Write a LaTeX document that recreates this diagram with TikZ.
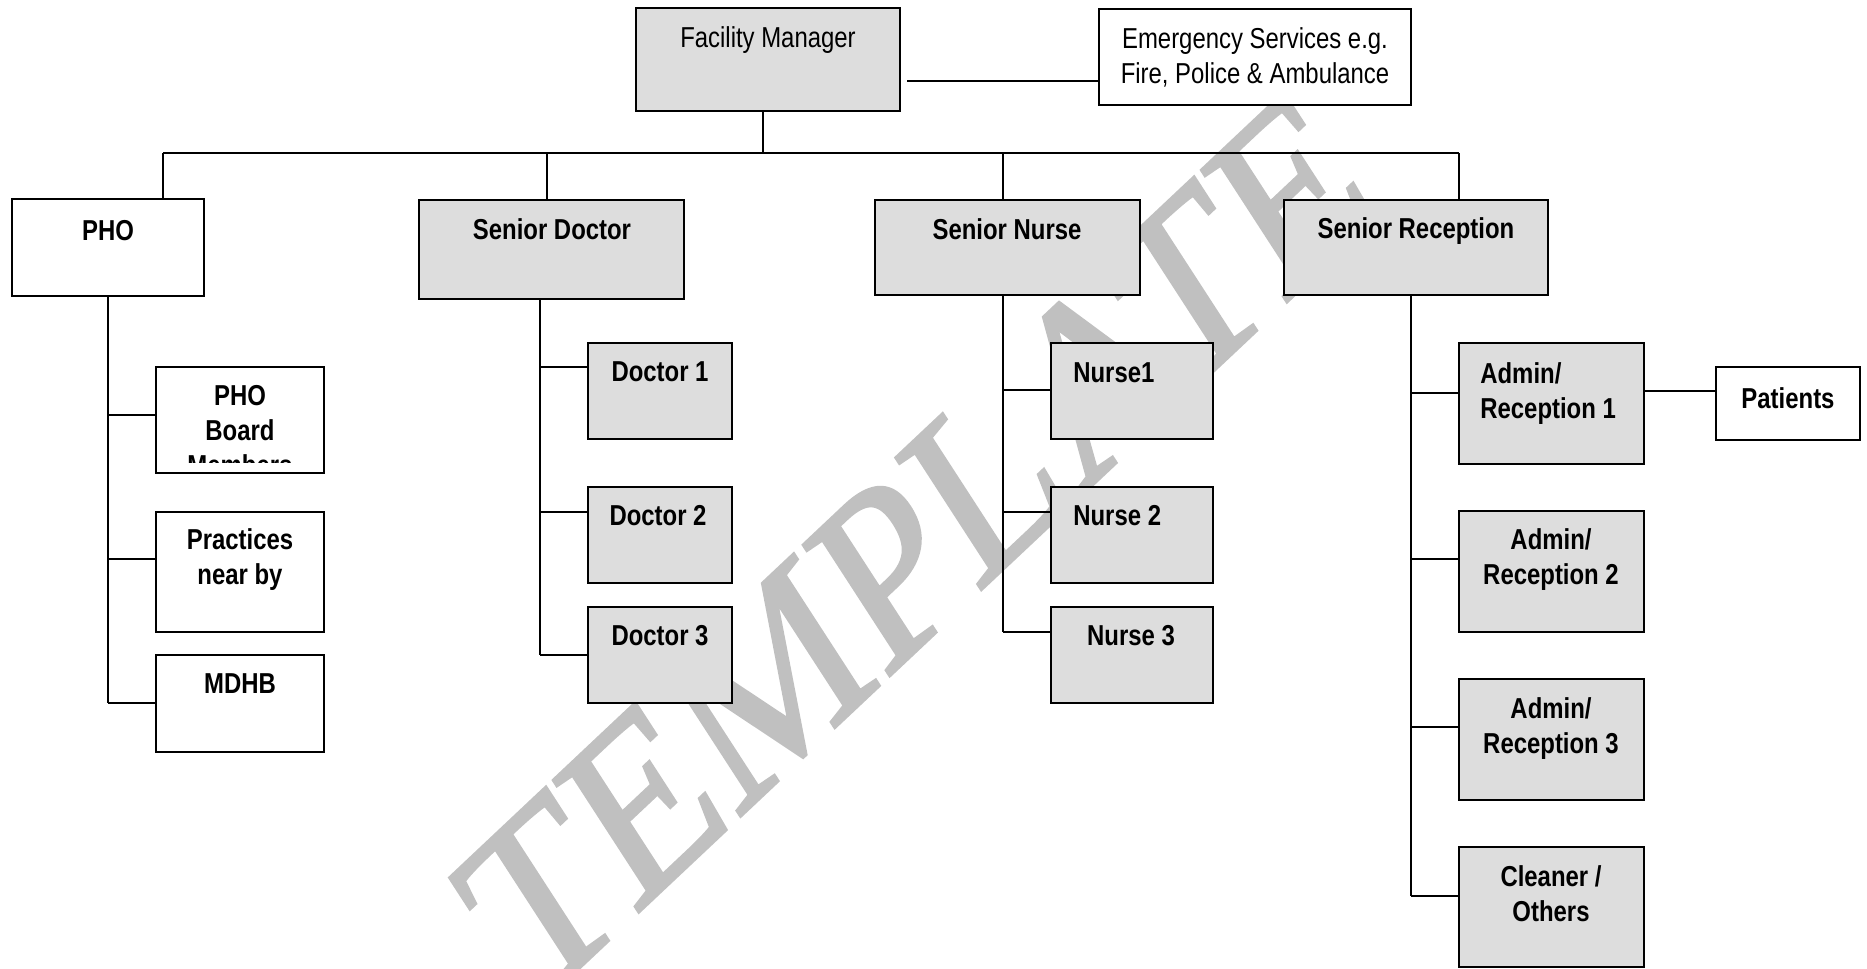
\documentclass[tikz,border=0pt]{standalone}
\usepackage{fontspec}
\setmainfont{Liberation Sans}[FakeStretch=0.83]
\newfontfamily\wmfont{Liberation Serif}[FakeBold=1.5]
\usetikzlibrary{fit}
\definecolor{boxgray}{RGB}{221,221,221}
\definecolor{wmgray}{RGB}{192,192,192}
\begin{document}
\begin{tikzpicture}[x=0.02cm,y=-0.02cm,
  graybox/.style={draw=black,line width=1.2pt,fill=boxgray,inner sep=0pt},
  whitebox/.style={draw=black,line width=1.2pt,fill=white,inner sep=0pt},
  link/.style={draw=black,line width=1pt},
  txt/.style={anchor=north,inner sep=0pt,align=center,font=\fontsize{16.4}{19.9}\selectfont},
  btxt/.style={txt,font=\fontsize{16.4}{19.9}\selectfont\bfseries}]
\useasboundingbox (0,0) rectangle (1867,968);
% watermark
\node[text=wmgray,font=\wmfont\fontsize{145}{145}\selectfont,inner sep=0pt,xscale=0.83,rotate=38] (wm) at (915,545) {TEMPLATE};
% junctions
\coordinate (j-emg) at (907,81);
\coordinate (bus-l) at (163,153);
\coordinate (bus-sd) at (547,153);
\coordinate (bus-fm) at (763,153);
\coordinate (bus-sn) at (1003,153);
\coordinate (bus-r) at (1459,153);
\coordinate (j-pho1) at (108,415);
\coordinate (j-pho2) at (108,559);
\coordinate (j-pho3) at (108,703);
\coordinate (j-d1) at (540,367);
\coordinate (j-d2) at (540,512);
\coordinate (j-d3) at (540,655);
\coordinate (j-n1) at (1003,390);
\coordinate (j-n2) at (1003,512);
\coordinate (j-n3) at (1003,632);
\coordinate (j-a1) at (1411,393);
\coordinate (j-a2) at (1411,559);
\coordinate (j-a3) at (1411,727);
\coordinate (j-cl) at (1411,896);
\coordinate (j-pat) at (1644,391);
% boxes
\node[graybox,fit={(636,8) (900,111)}] (fm) {};
\node[whitebox,fit={(1099,9) (1411,105)}] (emg) {};
\node[whitebox,fit={(12,199) (204,296)}] (pho) {};
\node[graybox,fit={(419,200) (684,299)}] (sdoc) {};
\node[graybox,fit={(875,200) (1140,295)}] (snur) {};
\node[graybox,fit={(1284,200) (1548,295)}] (srec) {};
\node[whitebox,fit={(156,367) (324,473)}] (phob) {};
\node[whitebox,fit={(156,512) (324,632)}] (prac) {};
\node[whitebox,fit={(156,655) (324,752)}] (mdhb) {};
\node[graybox,fit={(588,343) (732,439)}] (doc1) {};
\node[graybox,fit={(588,487) (732,583)}] (doc2) {};
\node[graybox,fit={(588,607) (732,703)}] (doc3) {};
\node[graybox,fit={(1051,343) (1213,439)}] (nur1) {};
\node[graybox,fit={(1051,487) (1213,583)}] (nur2) {};
\node[graybox,fit={(1051,607) (1213,703)}] (nur3) {};
\node[graybox,fit={(1459,343) (1644,464)}] (adm1) {};
\node[graybox,fit={(1459,511) (1644,632)}] (adm2) {};
\node[graybox,fit={(1459,679) (1644,800)}] (adm3) {};
\node[graybox,fit={(1459,847) (1644,967)}] (clean) {};
\node[whitebox,fit={(1716,367) (1860,440)}] (pat) {};
% connectors
\draw[link] (j-emg) -- (j-emg -| emg.west);
\draw[link] (bus-fm |- fm.south) -- (bus-fm);
\draw[link] (bus-l) -- (bus-r);
\draw[link] (bus-l) -- (bus-l |- pho.north);
\draw[link] (bus-sd) -- (bus-sd |- sdoc.north);
\draw[link] (bus-sn) -- (bus-sn |- snur.north);
\draw[link] (bus-r) -- (bus-r |- srec.north);
\draw[link] (pho.south) -- (j-pho3);
\draw[link] (j-pho1) -- (j-pho1 -| phob.west);
\draw[link] (j-pho2) -- (j-pho2 -| prac.west);
\draw[link] (j-pho3) -- (j-pho3 -| mdhb.west);
\draw[link] (j-d3 |- sdoc.south) -- (j-d3);
\draw[link] (j-d1) -- (j-d1 -| doc1.west);
\draw[link] (j-d2) -- (j-d2 -| doc2.west);
\draw[link] (j-d3) -- (j-d3 -| doc3.west);
\draw[link] (j-n3 |- snur.south) -- (j-n3);
\draw[link] (j-n1) -- (j-n1 -| nur1.west);
\draw[link] (j-n2) -- (j-n2 -| nur2.west);
\draw[link] (j-n3) -- (j-n3 -| nur3.west);
\draw[link] (j-cl |- srec.south) -- (j-cl);
\draw[link] (j-a1) -- (j-a1 -| adm1.west);
\draw[link] (j-a2) -- (j-a2 -| adm2.west);
\draw[link] (j-a3) -- (j-a3 -| adm3.west);
\draw[link] (j-cl) -- (j-cl -| clean.west);
\draw[link] (j-pat) -- (j-pat -| pat.west);
% texts
\node[txt] (fm-txt) at (768,26) {Facility Manager};
\node[txt] (emg-txt) at (1255,27) {Emergency Services e.g.\\Fire, Police \& Ambulance};
\node[btxt] (pho-txt) at (108,220) {PHO};
\node[btxt] (sdoc-txt) at (552,218) {Senior Doctor};
\node[btxt] (snur-txt) at (1007,218) {Senior Nurse};
\node[btxt] (srec-txt) at (1416,217) {Senior Reception};
\begin{scope}
\clip (157,368) rectangle (323,462);
\node[btxt] (phob-txt) at (240,385) {PHO\\Board\\Members};
\end{scope}
\node[btxt] (prac-txt) at (240,528) {Practices\\near by};
\node[btxt] (mdhb-txt) at (240,673) {MDHB};
\node[btxt] (doc1-txt) at (660,361) {Doctor 1};
\node[btxt] (doc2-txt) at (658,505) {Doctor 2};
\node[btxt] (doc3-txt) at (660,625) {Doctor 3};
\node[btxt,anchor=north west] (nur1-txt) at (1073,362) {Nurse1};
\node[btxt,anchor=north west] (nur2-txt) at (1073,505) {Nurse 2};
\node[btxt] (nur3-txt) at (1131,625) {Nurse 3};
\node[btxt,anchor=north west,align=left] (adm1-txt) at (1480,362) {Admin/\\Reception 1};
\node[btxt] (adm2-txt) at (1551,528) {Admin/\\Reception 2};
\node[btxt] (adm3-txt) at (1551,697) {Admin/\\Reception 3};
\node[btxt] (clean-txt) at (1551,865) {Cleaner /\\Others};
\node[btxt] (pat-txt) at (1788,387) {Patients};
\end{tikzpicture}
\end{document}
